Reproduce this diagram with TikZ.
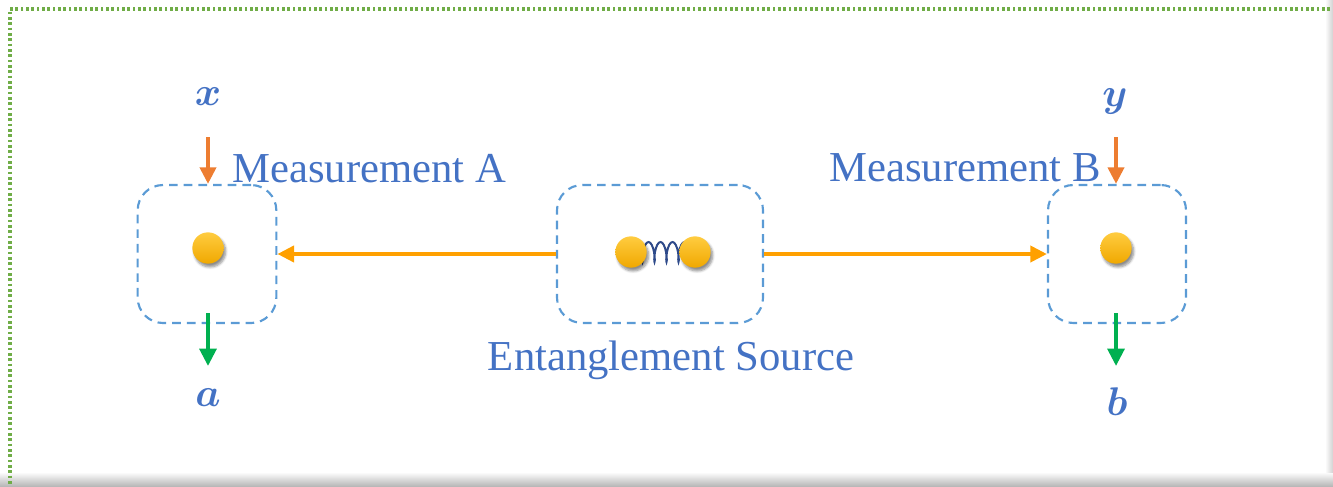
\RequirePackage{fix-cm}
\documentclass[tikz,border=0pt]{standalone}
\usepackage{fontspec}
\setmainfont{Liberation Serif}
\usepackage{bm}
\usetikzlibrary{arrows.meta,shadows.blur,decorations.pathmorphing,backgrounds}
\definecolor{boxblue}{HTML}{5B9BD5}
\definecolor{txtblue}{HTML}{4472C4}
\definecolor{flyorange}{HTML}{FFA000}
\definecolor{inorange}{HTML}{ED7D31}
\definecolor{outgreen}{HTML}{00B050}
\definecolor{framegreen}{HTML}{70AD47}
\definecolor{springblue}{HTML}{2E4A8A}
\definecolor{dotlight}{HTML}{FFCC40}
\definecolor{dotdark}{HTML}{F0A800}
\tikzset{
  labbox/.style={draw=boxblue, line width=1.6pt, dash pattern=on 6.5pt off 4.5pt,
    rounded corners=19pt, minimum height=103.5pt, inner sep=0pt},
  particle/.style={circle, minimum size=23.5pt, inner sep=0pt,
    top color=dotlight, bottom color=dotdark,
    blur shadow={shadow xshift=1.5pt, shadow yshift=-2.5pt, shadow blur steps=6, shadow opacity=45}},
  bigtext/.style={text=txtblue, font=\fontsize{32}{36}\selectfont, inner sep=0pt},
  mathlab/.style={text=txtblue, font=\fontsize{30}{34}\selectfont, inner sep=0pt},
  flyarrow/.style={draw=flyorange, line width=3pt, -{Triangle[length=12.5pt,width=12pt]}},
  inarrow/.style={draw=inorange, line width=3pt, -{Triangle[length=12.5pt,width=12pt]}},
  outarrow/.style={draw=outgreen, line width=3pt, -{Triangle[length=13pt,width=12.5pt]}},
}
\begin{document}
\begin{tikzpicture}[x=0.75pt,y=-0.75pt]
\useasboundingbox (0,0) rectangle (1333,486);
% frame
\shade[top color=white, bottom color=black!28] (0,472) rectangle (1333,486);
\shade[left color=white, right color=black!18] (1325,0) rectangle (1333,472);
\draw[framegreen, line width=2.6pt, dash pattern=on 2pt off 2pt] (1330,9) -- (10,9) -- (10,486);
% boxes
\node[labbox, minimum width=104pt] (boxA) at (207,254) {};
\node[labbox, minimum width=154.5pt] (boxS) at (660,254) {};
\node[labbox, minimum width=103.5pt] (boxB) at (1117,254) {};
% particles
\node[particle] (dotA) at (208,248) {};
\node[particle] (dotB) at (1116,248) {};
\node[particle] (dotL) at (631,252) {};
\node[particle] (dotR) at (695,252) {};
\begin{scope}[on background layer]
\draw[springblue, line width=1.5pt, decorate,
  decoration={coil, amplitude=7.5pt, segment length=9pt, aspect=0.25}]
  (dotL.center) -- (dotR.center);
\end{scope}
% flying particles
\draw[flyarrow] (boxS.west) -- (boxA.east);
\draw[flyarrow] (boxS.east) -- (boxB.west);
% labels
\node[bigtext, anchor=base west] (measA) at (232,182) {Measurement A};
\node[bigtext, anchor=base west] (measB) at (829,181) {Measurement B};
\node[bigtext, anchor=base] (src) at (671,370) {Entanglement Source};
\node[mathlab] (xin) at (208,97) {$\bm{x}$};
\node[mathlab] (yin) at (1115,101) {$\bm{y}$};
\node[mathlab] (aout) at (208,398) {$\bm{a}$};
\node[mathlab] (bout) at (1117,402) {$\bm{b}$};
% input / output arrows
\coordinate (xs) at (208,137);
\coordinate (ys) at (1116,137);
\coordinate (as) at (208,313);
\coordinate (ae) at (208,366);
\coordinate (bs) at (1116,313);
\coordinate (be) at (1116,366);
\draw[inarrow] (xs) -- (xs |- boxA.north);
\draw[inarrow] (ys) -- (ys |- boxB.north);
\draw[outarrow] (as) -- (ae);
\draw[outarrow] (bs) -- (be);
\end{tikzpicture}
\end{document}
